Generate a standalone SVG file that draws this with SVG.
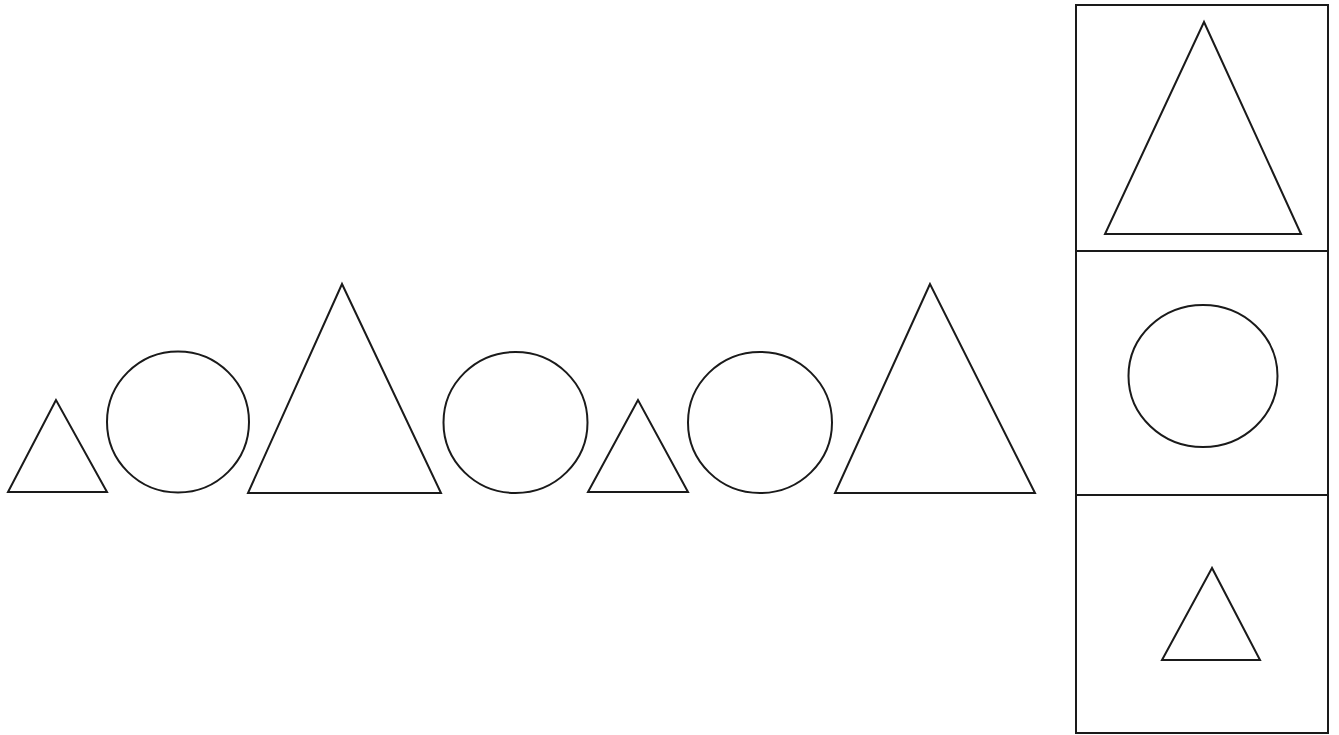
<svg xmlns="http://www.w3.org/2000/svg" width="1339" height="735" viewBox="0 0 1339 735">
  <style>
    .s { fill: none; stroke: #1a1a1a; stroke-width: 2; stroke-linejoin: miter; }
    .f { fill: none; stroke: #1a1a1a; stroke-width: 2; }
  </style>
  <rect x="0" y="0" width="1339" height="735" fill="#ffffff"/>
  <g id="sequence">
    <polygon id="tri-small-1" class="s" points="56,400 8,492 107,492"/>
    <ellipse id="circle-1" class="s" cx="178" cy="422" rx="71" ry="70.5"/>
    <polygon id="tri-big-1" class="s" points="342,284 248,493 441,493"/>
    <ellipse id="circle-2" class="s" cx="515.5" cy="422.5" rx="72" ry="70.5"/>
    <polygon id="tri-small-2" class="s" points="638,400 588,492 688,492"/>
    <ellipse id="circle-3" class="s" cx="760" cy="422.5" rx="72" ry="70.5"/>
    <polygon id="tri-big-2" class="s" points="930,284 835,493 1035,493"/>
  </g>
  <g id="options">
    <rect id="frame" class="f" x="1076" y="5" width="252" height="728"/>
    <line class="f" x1="1076" y1="251" x2="1328" y2="251"/>
    <line class="f" x1="1076" y1="495" x2="1328" y2="495"/>
    <polygon id="opt-tri-big" class="s" points="1204,22 1105,234 1301,234"/>
    <ellipse id="opt-circle" class="s" cx="1203" cy="376" rx="74.5" ry="71"/>
    <polygon id="opt-tri-small" class="s" points="1212,568 1162,660 1260,660"/>
  </g>
</svg>
